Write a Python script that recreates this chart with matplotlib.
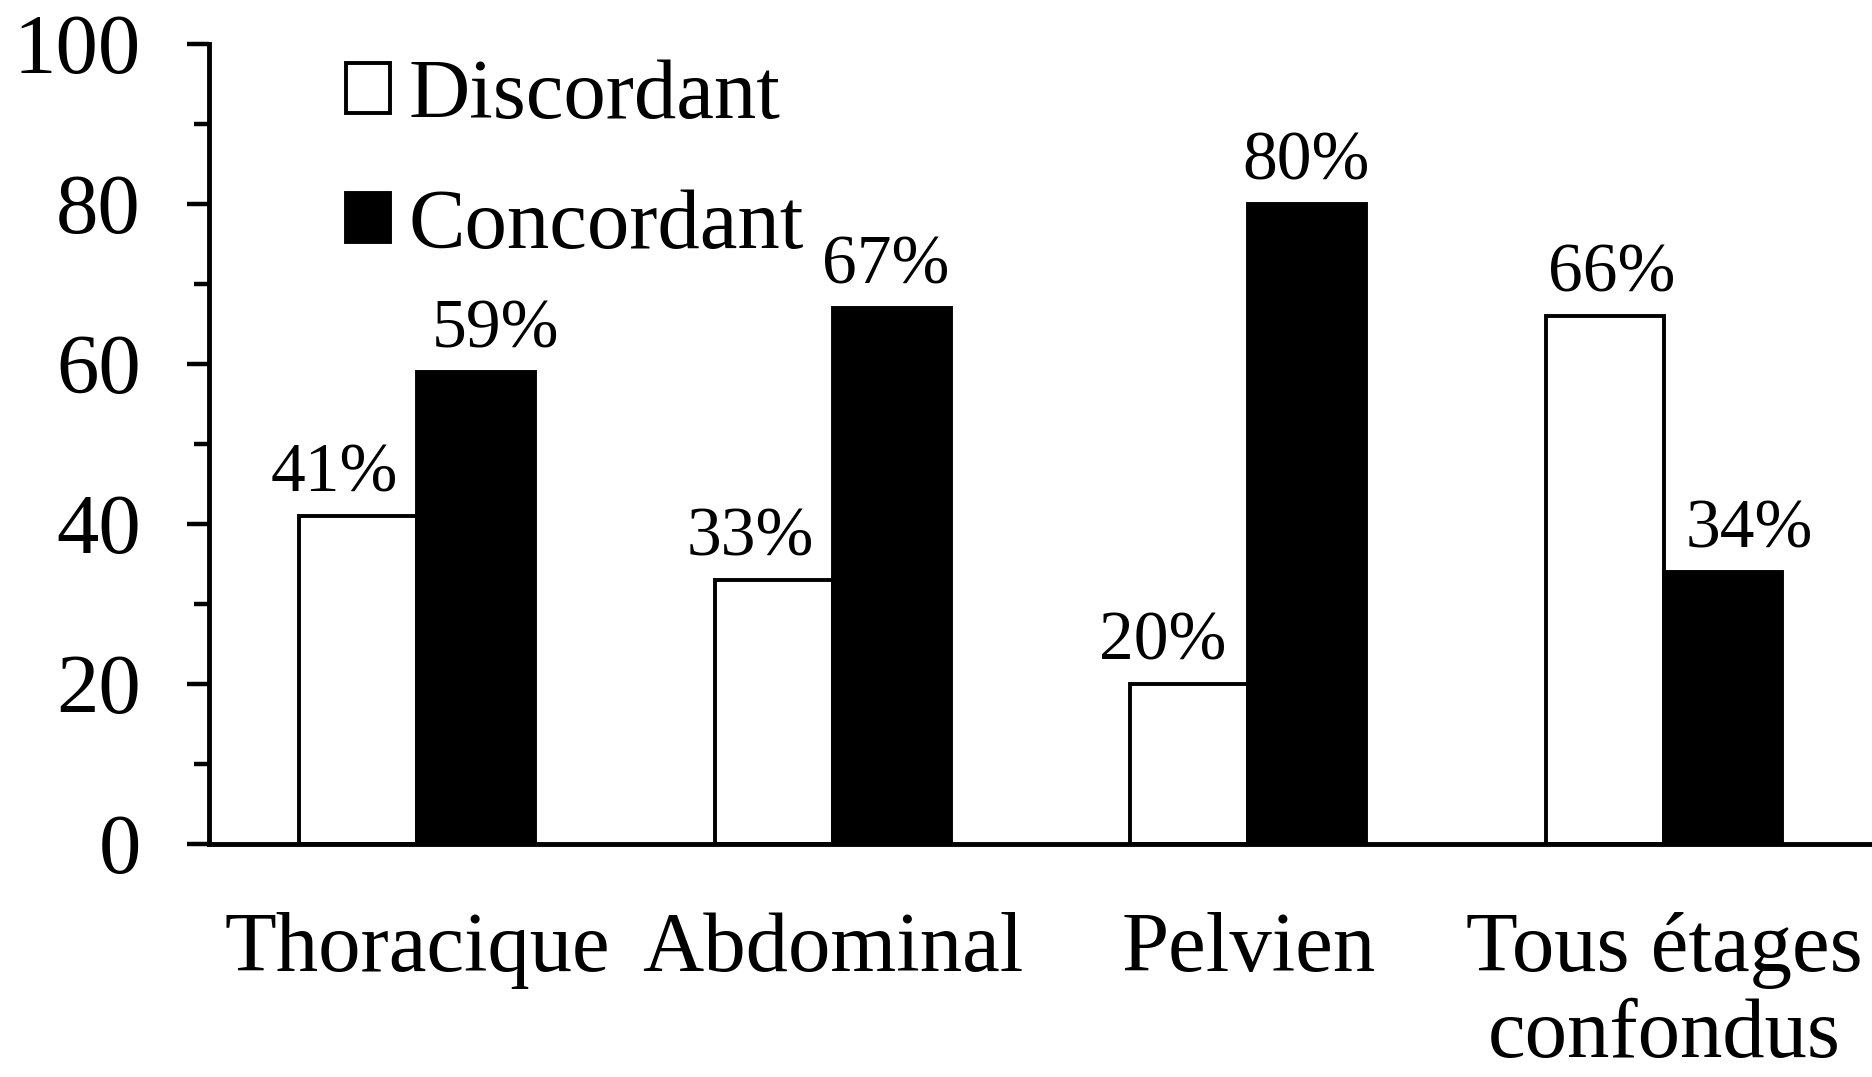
import matplotlib

matplotlib.use("Agg")
import matplotlib.pyplot as plt
import numpy as np
from matplotlib.ticker import MultipleLocator

plt.rcParams.update({
    "font.family": ["Liberation Serif", "DejaVu Serif"],
    "figure.facecolor": "white",
    "axes.facecolor": "white",
})

categories = ["Thoracique", "Abdominal", "Pelvien", "Tous étages\nconfondus"]
discordant = [41, 33, 20, 66]
concordant = [59, 67, 80, 34]
series_names = ["Discordant", "Concordant"]

W = 0.284
# labels in the original are nudged by hand, offsets in points
DX_DISC = [-17, -17, -19, 5]
DX_CONC = [14, -4, -1, 19]

fig = plt.figure(figsize=(18.72, 10.77), dpi=100)
ax = fig.add_axes([209 / 1872, 1 - 844 / 1077, 1 - 209 / 1872, (844 - 44) / 1077])

x = np.arange(len(categories))
b1 = ax.bar(x - W / 2, discordant, W, color="white", edgecolor="black",
            linewidth=2.8, label=series_names[0], zorder=3)
b2 = ax.bar(x + W / 2, concordant, W, color="black", edgecolor="black",
            linewidth=2.8, label=series_names[1], zorder=3)

for bars, vals, dxs in ((b1, discordant, DX_DISC), (b2, concordant, DX_CONC)):
    for rect, v, dx in zip(bars, vals, dxs):
        ax.annotate(f"{v}%", (rect.get_x() + rect.get_width() / 2, v),
                    xytext=(dx, 7), textcoords="offset points",
                    ha="center", va="bottom", fontsize=50)

ax.set_xlim(-0.5, 3.5)
ax.set_ylim(0, 100)
ax.yaxis.set_major_locator(MultipleLocator(20))
ax.yaxis.set_minor_locator(MultipleLocator(10))
ax.set_xticks(x)
ax.set_xticklabels(categories, fontsize=61, linespacing=1.15)
ax.tick_params(axis="x", length=0, pad=49)
ax.tick_params(axis="y", which="major", length=16, width=3.2, labelsize=61, pad=33)
ax.tick_params(axis="y", which="minor", length=11, width=3.2)

for s in ("top", "right"):
    ax.spines[s].set_visible(False)
for s in ("left", "bottom"):
    ax.spines[s].set_linewidth(3.5)
    ax.spines[s].set_zorder(4)

ax.legend(loc="upper left", bbox_to_anchor=(346 / 1872, 1 - 59 / 1077),
          bbox_transform=fig.transFigure, frameon=False, fontsize=61,
          handlelength=0.52, handleheight=0.52, handletextpad=0.22,
          labelspacing=0.62, borderpad=0, borderaxespad=0)

fig.savefig("out.png", dpi=100)
